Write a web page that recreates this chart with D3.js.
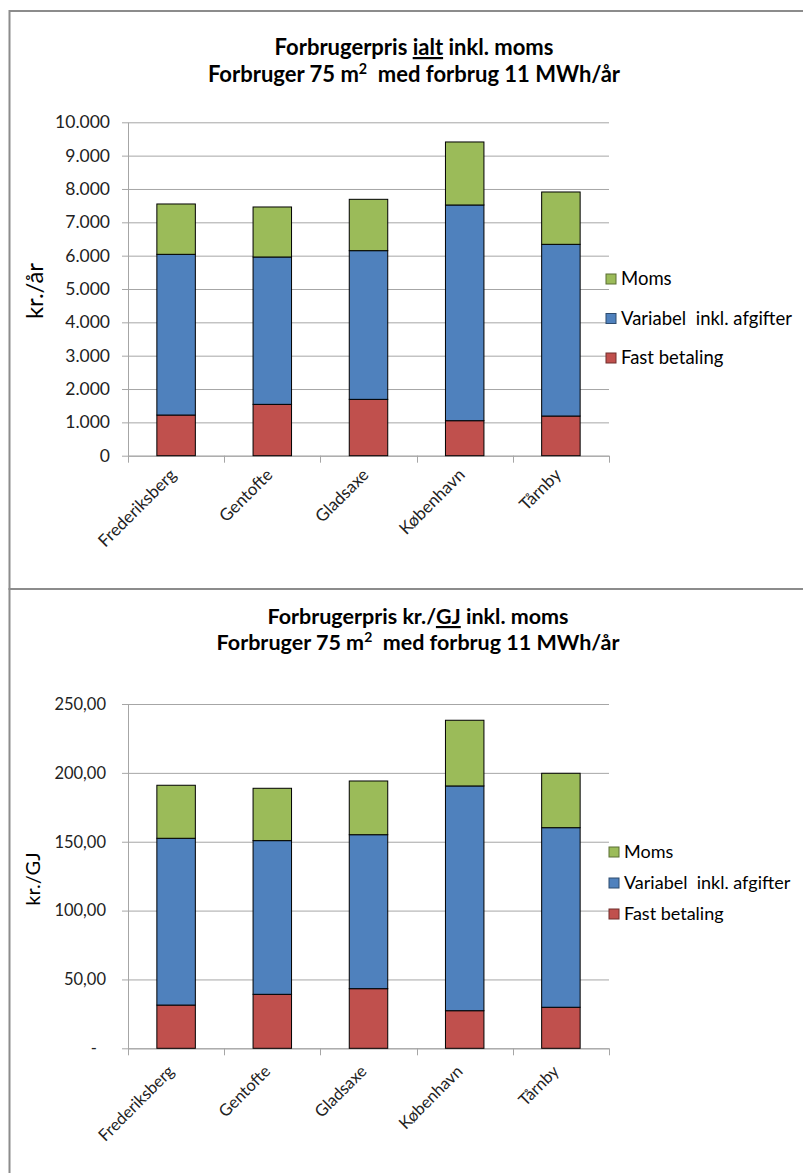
<!DOCTYPE html>
<html>
<head>
<meta charset="utf-8">
<script src="https://cdn.jsdelivr.net/npm/d3@7"></script>
<style>
  html, body { margin: 0; padding: 0; background: #fff; }
  svg { display: block; font-family: Lato, "Open Sans", sans-serif; }
  .pre { white-space: pre; }
</style>
</head>
<body>
<svg id="chart" width="803" height="1173"></svg>
<script>
// ---------- DATA ----------
const categories = ["Frederiksberg", "Gentofte", "Gladsaxe", "København", "Tårnby"];
const seriesNames = ["Fast betaling", "Variabel  inkl. afgifter", "Moms"];
const seriesColors = ["#C0504D", "#4F81BD", "#9BBB59"];

// Chart 1: kr./år
const fastAar = [1220, 1540, 1690, 1050, 1190];
const variabelAar = [4820, 4420, 4460, 6470, 5150];
const momsAar = [1510, 1500, 1540, 1890, 1570];
const ticksAar = [0, 1000, 2000, 3000, 4000, 5000, 6000, 7000, 8000, 9000, 10000];
const tickLabelsAar = ["0", "1.000", "2.000", "3.000", "4.000", "5.000", "6.000", "7.000", "8.000", "9.000", "10.000"];

// Chart 2: kr./GJ
const fastGJ = [31.4, 39.2, 43.3, 27.3, 29.8];
const variabelGJ = [121.1, 111.6, 111.8, 163.2, 130.4];
const momsGJ = [38.5, 38.0, 39.0, 47.7, 39.5];
const ticksGJ = [0, 50, 100, 150, 200, 250];
const tickLabelsGJ = ["-", "50,00", "100,00", "150,00", "200,00", "250,00"];

// ---------- DRAW ----------
const svg = d3.select("#chart");

// frames
svg.append("rect").attr("x", 9.5).attr("y", 11).attr("width", 840).attr("height", 578)
  .attr("fill", "none").attr("stroke", "#8c8c8c").attr("stroke-width", 2);
svg.append("rect").attr("x", 9.5).attr("y", 589).attr("width", 840).attr("height", 700)
  .attr("fill", "none").attr("stroke", "#8c8c8c").attr("stroke-width", 2);

function drawTitle(g, cx, y1, y2, pre, under, post, size) {
  const t1 = g.append("text").attr("x", cx).attr("y", y1).attr("text-anchor", "middle")
    .attr("font-weight", "bold").attr("font-size", size).attr("fill", "#000");
  t1.append("tspan").attr("class", "pre").text(pre);
  t1.append("tspan").attr("text-decoration", "underline").text(under);
  t1.append("tspan").attr("class", "pre").text(post);
  const t2 = g.append("text").attr("x", cx).attr("y", y2).attr("text-anchor", "middle")
    .attr("font-weight", "bold").attr("font-size", size).attr("fill", "#000").attr("class", "pre");
  t2.append("tspan").text("Forbruger 75 m");
  t2.append("tspan").attr("font-size", size * 0.65).attr("dy", -size * 0.38).text("2");
  t2.append("tspan").attr("dy", size * 0.38).text("  med forbrug 11 MWh/år");
}

function drawChart(cfg) {
  const g = svg.append("g");
  const x = d3.scaleBand().domain(categories).range([cfg.left, cfg.right])
    .paddingInner(0.6).paddingOuter(0.3);
  const y = d3.scaleLinear().domain([0, cfg.max]).range([cfg.bottom, cfg.top]);

  // gridlines
  g.append("g").selectAll("line").data(cfg.ticks).join("line")
    .attr("x1", cfg.left - 6).attr("x2", cfg.right)
    .attr("y1", d => y(d) + 0.5).attr("y2", d => y(d) + 0.5)
    .attr("stroke", "#a6a6a6").attr("stroke-width", 1);

  // y axis
  const yAxis = d3.axisLeft(y).tickValues(cfg.ticks).tickSize(0).tickPadding(cfg.tickPad)
    .tickFormat((d, i) => cfg.tickLabels[i]);
  const ya = g.append("g").attr("transform", `translate(${cfg.left},0)`).call(yAxis);
  ya.select(".domain").attr("stroke", "#a6a6a6");
  ya.selectAll("text").attr("font-size", cfg.tickSize).attr("fill", "#222")
    .attr("font-family", "Lato, sans-serif")
    .attr("dx", d => (d === 0 && cfg.dashZero) ? -9 : 0);

  // x axis
  const xAxis = d3.axisBottom(x).tickSize(0).tickFormat("");
  const xa = g.append("g").attr("transform", `translate(0,${cfg.bottom})`).call(xAxis);
  xa.select(".domain").attr("stroke", "#a6a6a6").attr("d", `M${cfg.left},0.5H${cfg.right}`);
  const bounds = categories.map(c => x(c) - x.step() * x.paddingInner() / 2);
  bounds.push(cfg.right);
  g.append("g").selectAll("line").data(bounds).join("line")
    .attr("x1", d => Math.round(d) + 0.5).attr("x2", d => Math.round(d) + 0.5)
    .attr("y1", cfg.bottom).attr("y2", cfg.bottom + 7)
    .attr("stroke", "#a6a6a6");

  // x labels
  g.append("g").selectAll("text").data(categories).join("text")
    .attr("transform", d => `translate(${x(d) + x.bandwidth() / 2 + cfg.xDx},${cfg.bottom + cfg.xDy}) rotate(-45)`)
    .attr("text-anchor", "end").attr("dy", "0.35em")
    .attr("font-size", cfg.xSize).attr("fill", "#222").text(d => d);

  // stacked bars
  const rows = categories.map((c, i) => ({ cat: c, s0: cfg.series[0][i], s1: cfg.series[1][i], s2: cfg.series[2][i] }));
  const stack = d3.stack().keys(["s0", "s1", "s2"])(rows);
  stack.forEach((layer, li) => {
    g.append("g").selectAll("rect").data(layer).join("rect")
      .attr("x", d => x(d.data.cat)).attr("width", x.bandwidth())
      .attr("y", d => y(d[1])).attr("height", d => y(d[0]) - y(d[1]))
      .attr("fill", seriesColors[li]).attr("stroke", "#000").attr("stroke-width", 1);
  });

  // y title
  g.append("text").attr("transform", `translate(${cfg.yTitleX},${cfg.yTitleY}) rotate(-90)`)
    .attr("text-anchor", "middle").attr("font-size", cfg.yTitleSize).attr("fill", "#000")
    .text(cfg.yTitle);

  // legend (Moms on top)
  const order = [2, 1, 0];
  order.forEach((si, k) => {
    const cy = cfg.legY + k * cfg.legStep;
    g.append("rect").attr("x", cfg.legX).attr("y", cy - 5).attr("width", 10).attr("height", 10)
      .attr("fill", seriesColors[si]).attr("stroke", d3.color(seriesColors[si]).darker(1.5)).attr("stroke-width", 1);
    g.append("text").attr("class", "pre").attr("x", cfg.legX + 15).attr("y", cy).attr("dy", "0.35em")
      .attr("font-size", cfg.legSize).attr("fill", "#000").text(seriesNames[si]);
  });
}

drawTitle(svg, 414, 55, 82, "Forbrugerpris ", "ialt", " inkl. moms", 22);
drawChart({
  left: 128, right: 609, top: 122.3, bottom: 455.7, max: 10000,
  ticks: ticksAar, tickLabels: tickLabelsAar, tickPad: 18, tickSize: 17.5, dashZero: false,
  series: [fastAar, variabelAar, momsAar], xSize: 17, xDx: -3, xDy: 16,
  yTitle: "kr./år", yTitleX: 43, yTitleY: 291, yTitleSize: 24,
  legX: 606, legY: 279, legStep: 39.5, legSize: 18.5
});

drawTitle(svg, 418, 624, 650, "Forbrugerpris kr./", "GJ", " inkl. moms", 21.5);
drawChart({
  left: 128, right: 609, top: 704, bottom: 1048.3, max: 250,
  ticks: ticksGJ, tickLabels: tickLabelsGJ, tickPad: 22, tickSize: 16.5, dashZero: true,
  series: [fastGJ, variabelGJ, momsGJ], xSize: 16.5, xDx: -5, xDy: 20,
  yTitle: "kr./GJ", yTitleX: 40, yTitleY: 879, yTitleSize: 20,
  legX: 609, legY: 852, legStep: 31, legSize: 18
});
</script>
</body>
</html>
